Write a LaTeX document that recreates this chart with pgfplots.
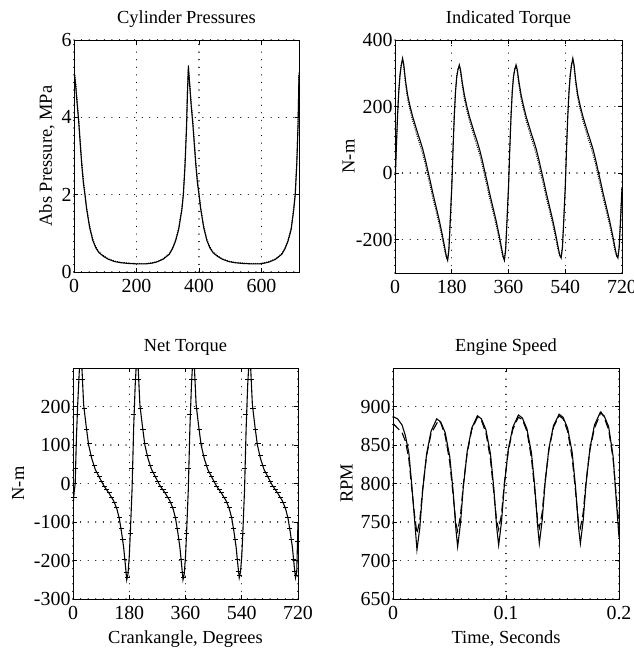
\documentclass[border=0pt]{standalone}
\usepackage{fontspec}
\setmainfont{Liberation Serif}
\usepackage{pgfplots}
\pgfplotsset{compat=1.18}

\pgfplotsset{
  myaxis/.style={
    scale only axis,
    anchor=north west,
    font=\fontsize{18.5}{21}\selectfont,
    tick label style={font=\fontsize{20}{22}\selectfont},
    /pgf/number format/assume math mode=true,
    /pgf/number format/1000 sep={},
    axis line style={line width=0.8pt},
    tick style={line width=0.6pt, black},
    tick align=inside,
    major tick length=4pt,
    xmajorgrids, ymajorgrids,
    major grid style={black, line width=1.3pt, dash pattern=on 0.01pt off 7.6pt, line cap=round},
    title style={at={(axis description cs:0.5,1)}, anchor=base, yshift=11pt},
    xlabel style={at={(axis description cs:0.5,0)}, anchor=base, yshift=-45pt},
    yticklabel style={xshift=1pt},
    xticklabel style={yshift=-4pt},
  },
  solidline/.style={black, line width=1.1pt, no markers},
  dotline/.style={black, line width=1.3pt, dash pattern=on 0.01pt off 2.2pt, line cap=round, no markers},
}

\begin{document}
\begin{tikzpicture}
\useasboundingbox (0,0) rectangle (634bp,-648bp);

% ---------------- Cylinder Pressures ----------------
\begin{axis}[myaxis, at={(74bp,-40bp)}, width=225bp, height=232bp,
  xmin=0, xmax=720, ymin=0, ymax=6,
  xtick={0,200,400,600}, ytick={0,2,4,6},
  title={Cylinder Pressures},
  ylabel={Abs Pressure, MPa},
  ylabel style={at={(axis description cs:-0.12,0.5)}, anchor=center},
]
\addplot[solidline] coordinates {(0,5.2)(5,4.85)(10,4.35)(15,3.9)(20,3.3)(25,2.75)(30,2.3)(35,2.0)(40,1.65)(50,1.15)(60,0.82)(70,0.62)(80,0.5)(95,0.4)(110,0.33)(130,0.27)(150,0.24)(175,0.22)(200,0.21)(230,0.21)(250,0.23)(265,0.26)(285,0.33)(305,0.46)(315,0.6)(325,0.8)(335,1.1)(345,1.6)(350,2.0)(355,2.7)(360,3.7)(363,4.6)(366,5.3)(370,4.85)(375,4.3)(380,3.85)(385,3.3)(390,2.75)(395,2.3)(400,2.0)(405,1.65)(415,1.15)(425,0.82)(435,0.62)(445,0.5)(460,0.4)(475,0.33)(495,0.27)(515,0.24)(540,0.22)(570,0.21)(595,0.21)(610,0.23)(625,0.26)(645,0.33)(665,0.46)(675,0.6)(685,0.8)(695,1.1)(703,1.6)(708,2.0)(713,2.8)(717,3.8)(720,5.1)};
\addplot[dotline] coordinates {(0,5.25)(5,4.95)(10,4.45)(15,3.95)(20,3.4)(25,2.85)(30,2.4)(35,2.05)(40,1.7)(50,1.2)(60,0.86)(70,0.65)(80,0.52)(95,0.42)(110,0.34)(130,0.28)(150,0.25)(175,0.23)(200,0.22)(230,0.22)(250,0.24)(265,0.27)(285,0.34)(305,0.48)(315,0.62)(325,0.83)(335,1.15)(345,1.65)(350,2.05)(355,2.8)(360,3.8)(363,4.7)(366,5.35)(370,4.95)(375,4.4)(380,3.95)(385,3.4)(390,2.85)(395,2.4)(400,2.05)(405,1.7)(415,1.2)(425,0.86)(435,0.65)(445,0.52)(460,0.42)(475,0.34)(495,0.28)(515,0.25)(540,0.23)(570,0.22)(595,0.22)(610,0.24)(625,0.27)(645,0.34)(665,0.48)(675,0.62)(685,0.83)(695,1.15)(703,1.65)(708,2.05)(713,2.9)(717,3.9)(720,5.2)};
\end{axis}

% ---------------- Indicated Torque ----------------
\begin{axis}[myaxis, at={(395bp,-40bp)}, width=227bp, height=233bp,
  xmin=0, xmax=720, ymin=-300, ymax=400,
  xtick={0,180,360,540,720}, ytick={-200,0,200,400},
  title={Indicated Torque},
  ylabel={N-m},
  ylabel style={at={(axis description cs:-0.205,0.5)}, anchor=center},
]
\addplot[solidline] coordinates {(0,-45)(4,70)(8,170)(12,245)(16,295)(20,325)(24,345)(28,325)(33,280)(40,235)(48,200)(56,170)(64,145)(72,120)(80,97)(88,72)(96,42)(104,8)(112,-25)(120,-60)(130,-100)(140,-140)(150,-185)(158,-225)(163,-250)(167,-262)(171,-230)(175,-150)(178,-85)
(180,-45)(184,70)(188,170)(192,245)(196,290)(200,312)(204,325)(208,310)(213,275)(220,235)(228,200)(236,170)(244,145)(252,120)(260,97)(268,72)(276,42)(284,8)(292,-25)(300,-60)(310,-100)(320,-140)(330,-185)(338,-225)(343,-250)(347,-262)(351,-230)(355,-150)(358,-85)
(360,-45)(364,70)(368,170)(372,245)(376,290)(380,312)(384,325)(388,310)(393,275)(400,235)(408,200)(416,170)(424,145)(432,120)(440,97)(448,72)(456,42)(464,8)(472,-25)(480,-60)(490,-100)(500,-140)(510,-185)(518,-225)(523,-248)(527,-255)(531,-225)(535,-150)(538,-85)
(540,-45)(544,70)(548,170)(552,245)(556,295)(560,325)(564,345)(568,325)(573,280)(580,235)(588,200)(596,170)(604,145)(612,120)(620,97)(628,72)(636,42)(644,8)(652,-25)(660,-60)(670,-100)(680,-140)(690,-185)(698,-225)(703,-248)(707,-255)(711,-225)(715,-150)(718,-85)(720,-45)};
\addplot[dotline] coordinates {(0,-40)(4,75)(8,175)(12,250)(16,300)(20,328)(24,340)(28,318)(33,270)(40,222)(48,188)(56,157)(64,132)(72,106)(80,82)(88,57)(96,27)(104,-8)(112,-40)(120,-75)(130,-113)(140,-153)(150,-197)(158,-235)(163,-255)(167,-258)(171,-222)(175,-140)(178,-80)
(180,-40)(184,75)(188,175)(192,250)(196,295)(200,315)(204,320)(208,302)(213,265)(220,222)(228,188)(236,157)(244,132)(252,106)(260,82)(268,57)(276,27)(284,-8)(292,-40)(300,-75)(310,-113)(320,-153)(330,-197)(338,-235)(343,-255)(347,-258)(351,-222)(355,-140)(358,-80)
(360,-40)(364,75)(368,175)(372,250)(376,295)(380,315)(384,320)(388,302)(393,265)(400,222)(408,188)(416,157)(424,132)(432,106)(440,82)(448,57)(456,27)(464,-8)(472,-40)(480,-75)(490,-113)(500,-153)(510,-197)(518,-235)(523,-250)(527,-250)(531,-218)(535,-140)(538,-80)
(540,-40)(544,75)(548,175)(552,250)(556,300)(560,328)(564,340)(568,318)(573,270)(580,222)(588,188)(596,157)(604,132)(612,106)(620,82)(628,57)(636,27)(644,-8)(652,-40)(660,-75)(670,-113)(680,-153)(690,-197)(698,-235)(703,-250)(707,-250)(711,-218)(715,-140)(718,-80)(720,-40)};
\end{axis}

% ---------------- Net Torque ----------------
\begin{axis}[myaxis, at={(73bp,-368bp)}, width=225bp, height=231bp,
  xmin=0, xmax=720, ymin=-300, ymax=300,
  xtick={0,180,360,540,720}, ytick={-300,-200,-100,0,100,200},
  title={Net Torque},
  xlabel={Crankangle, Degrees},
  ylabel={N-m},
  ylabel style={at={(axis description cs:-0.244,0.5)}, anchor=center},
]
\addplot[solidline] coordinates {(0,-60)(4,-20)(7,0)(11,120)(15,205)(20,290)(24,330)(28,310)(34,205)(42,150)(50,100)(60,65)(71,37)(85,15)(98,-5)(115,-25)(130,-45)(140,-65)(148,-90)(155,-125)(162,-165)(168,-215)(172,-250)(176,-235)
(180,-190)(183,-137)(189,-15)(194,142)(199,255)(204,330)(208,310)(214,205)(222,150)(230,100)(240,65)(251,37)(265,15)(278,-5)(295,-25)(310,-45)(320,-65)(328,-90)(335,-125)(342,-165)(348,-215)(352,-250)(356,-235)
(360,-190)(363,-137)(369,-15)(374,142)(379,255)(384,330)(388,310)(394,205)(402,150)(410,100)(420,65)(431,37)(445,15)(458,-5)(475,-25)(490,-45)(500,-65)(508,-90)(515,-125)(522,-165)(528,-215)(532,-245)(536,-230)
(540,-190)(543,-137)(549,-15)(554,142)(559,255)(564,330)(568,310)(574,205)(582,150)(590,100)(600,65)(611,37)(625,15)(638,-5)(655,-25)(670,-45)(680,-65)(688,-90)(695,-125)(702,-165)(708,-215)(712,-245)(716,-230)(720,-100)};
\addplot[black, only marks, mark=-, mark size=2.6pt, mark options={line width=0.9pt}] coordinates {(3,-35)(8,40)(13,180)(18,270)(30,270)(36,195)(44,140)(52,105)(60,72)(68,48)(76,30)(84,18)(92,6)(100,-8)(108,-15)(116,-22)(124,-35)(132,-50)(140,-62)(148,-88)(154,-118)(160,-145)(166,-198)(170,-232)(174,-245)
(183,-130)(188,40)(193,180)(198,270)(210,270)(216,195)(224,140)(232,105)(240,72)(248,48)(256,30)(264,18)(272,6)(280,-8)(288,-15)(296,-22)(304,-35)(312,-50)(320,-62)(328,-88)(334,-118)(340,-145)(346,-198)(350,-232)(354,-245)
(363,-130)(368,40)(373,180)(378,270)(390,270)(396,195)(404,140)(412,105)(420,72)(428,48)(436,30)(444,18)(452,6)(460,-8)(468,-15)(476,-22)(484,-35)(492,-50)(500,-62)(508,-88)(514,-118)(520,-145)(526,-198)(530,-228)(534,-240)
(543,-130)(548,40)(553,180)(558,270)(570,270)(576,195)(584,140)(592,105)(600,72)(608,48)(616,30)(624,18)(632,6)(640,-8)(648,-15)(656,-22)(664,-35)(672,-50)(680,-62)(688,-88)(694,-118)(700,-145)(706,-198)(710,-228)(714,-240)(718,-150)};
\end{axis}

% ---------------- Engine Speed ----------------
\begin{axis}[myaxis, at={(393bp,-368bp)}, width=226bp, height=231bp,
  xmin=0, xmax=0.2, ymin=650, ymax=950,
  xtick={0,0.1,0.2}, ytick={650,700,750,800,850,900},
  xticklabels={0,0.1,0.2},
  title={Engine Speed},
  xlabel={Time, Seconds},
  ylabel={RPM},
  ylabel style={at={(axis description cs:-0.205,0.5)}, anchor=center},
]
\addplot[solidline] coordinates {(0,887)(0.004,884)(0.008,876)(0.011,862)(0.014,840)(0.0165,800)(0.019,755)(0.0212,714)(0.0237,742)(0.0262,790)(0.0297,838)(0.0337,868)(0.0387,884)(0.0422,880)(0.0462,866)(0.0502,835)(0.0532,790)(0.0557,740)(0.0572,718)
(0.0597,748)(0.0622,795)(0.0657,842)(0.0697,872)(0.0747,888)(0.0782,884)(0.0822,870)(0.0862,839)(0.0892,794)(0.0917,744)(0.0935,720)
(0.0960,750)(0.0985,797)(0.1020,844)(0.1060,873)(0.1110,889)(0.1145,885)(0.1185,871)(0.1225,840)(0.1255,795)(0.1280,745)(0.1295,722)
(0.1320,752)(0.1345,799)(0.1380,846)(0.1420,875)(0.1470,890)(0.1505,886)(0.1545,872)(0.1585,841)(0.1615,796)(0.1640,746)(0.1658,722)
(0.1683,752)(0.1708,799)(0.1743,846)(0.1783,876)(0.1833,892)(0.1868,888)(0.1908,874)(0.1948,835)(0.1975,780)(0.2,730)};
\addplot[black, line width=1.1pt, dash pattern=on 9pt off 4pt, no markers] coordinates {(0,878)(0.004,872)(0.008,866)(0.011,855)(0.014,832)(0.0165,795)(0.019,760)(0.0212,735)(0.0237,752)(0.0262,792)(0.0297,836)(0.0337,865)(0.0387,878)(0.0402,882)(0.0422,879)(0.0462,862)(0.0502,828)(0.0532,785)(0.0557,748)(0.0572,738)
(0.0597,758)(0.0622,798)(0.0657,840)(0.0697,870)(0.0747,886)(0.0782,882)(0.0822,866)(0.0862,832)(0.0892,788)(0.0917,752)(0.0935,740)
(0.0960,760)(0.0985,800)(0.1020,842)(0.1060,870)(0.1090,880)(0.1110,886)(0.1145,883)(0.1185,868)(0.1225,833)(0.1255,790)(0.1280,752)(0.1295,742)
(0.1320,762)(0.1345,802)(0.1380,844)(0.1420,873)(0.1470,888)(0.1505,884)(0.1545,868)(0.1585,834)(0.1615,790)(0.1640,752)(0.1658,742)
(0.1683,762)(0.1708,802)(0.1743,844)(0.1783,872)(0.1820,885)(0.1840,893)(0.1868,886)(0.1908,870)(0.1948,832)(0.1975,785)(0.2,745)};
\end{axis}
\end{tikzpicture}
\end{document}
